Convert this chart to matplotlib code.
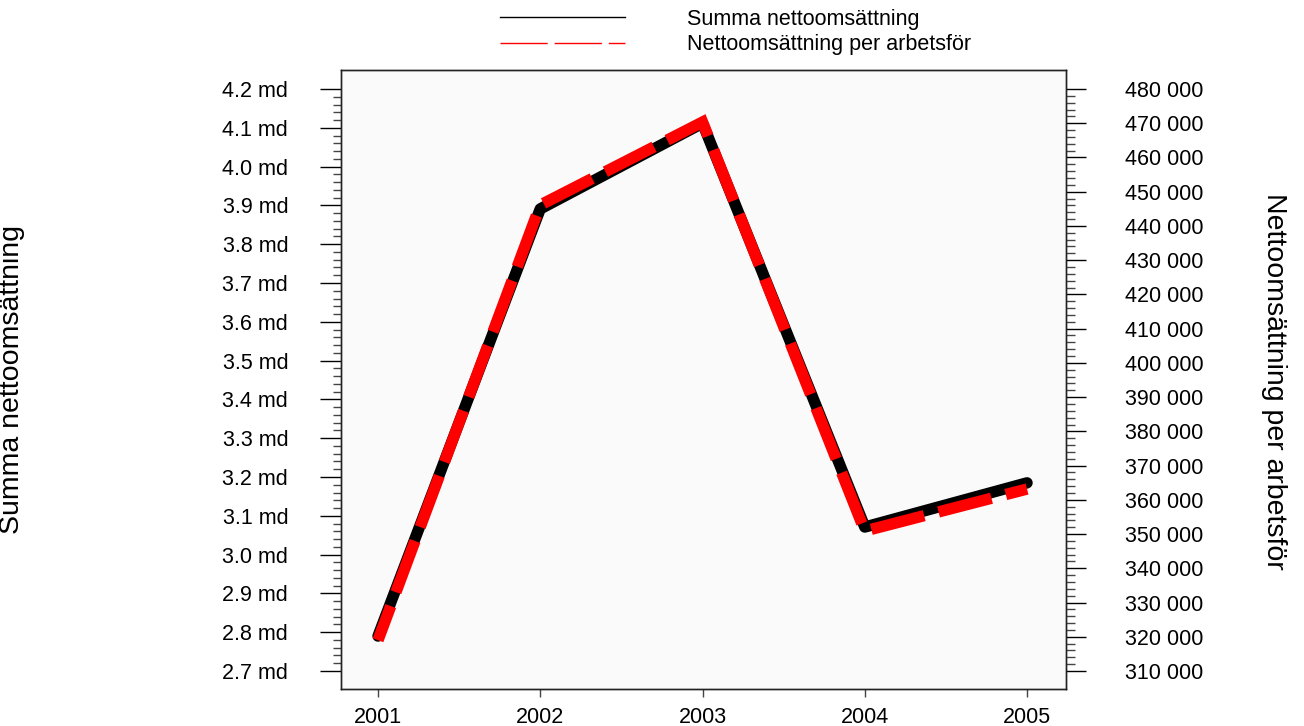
import numpy as np
import matplotlib.pyplot as plt
from matplotlib.lines import Line2D
from matplotlib.ticker import MultipleLocator, FixedLocator, FuncFormatter

plt.rcParams['font.family'] = ['Liberation Sans', 'DejaVu Sans']

years = [2001, 2002, 2003, 2004, 2005]
total_sales = [2.790, 3.891, 4.112, 3.071, 3.185]          # md
sales_per_worker = [319000, 446100, 470340, 350890, 363150]

label_total = 'Summa nettoomsättning'
label_per = 'Nettoomsättning per arbetsför'

fig = plt.figure(figsize=(13.04, 7.26), dpi=100)
ax = fig.add_axes([341 / 1304, 1 - 689 / 726, 725 / 1304, 619 / 726])
ax.set_facecolor('#fafafa')
ax2 = ax.twinx()

ax.plot(years, total_sales, color='black', lw=8.2,
        solid_capstyle='round', solid_joinstyle='round', zorder=2)
ax2.plot(years, sales_per_worker, color='#ff0000', lw=8.2,
         linestyle=(1.6, (4.8, 1.3)), dash_capstyle='butt',
         dash_joinstyle='miter', zorder=3)

ax.set_xlim(2000.772, 2005.24)
ax.set_ylim(2.6536, 4.249)
ax2.set_ylim(304743, 485549)

ax.set_xticks(years)
ax.yaxis.set_major_locator(FixedLocator(np.arange(2.7, 4.2001, 0.1)))
ax.yaxis.set_minor_locator(FixedLocator(np.arange(2.7, 4.2001, 0.02)))
ax.yaxis.set_major_formatter(FuncFormatter(lambda v, p: f'{v:.1f} md'))
ax2.yaxis.set_major_locator(FixedLocator(np.arange(310000, 480001, 10000)))
ax2.yaxis.set_minor_locator(FixedLocator(np.arange(310000, 480001, 2000)))
ax2.yaxis.set_major_formatter(
    FuncFormatter(lambda v, p: f'{v:,.0f}'.replace(',', ' ')))

for a in (ax, ax2):
    for s in a.spines.values():
        s.set_color('#222222')
        s.set_linewidth(1.0)

ax.tick_params(axis='x', length=5.8, width=1, color='#444444',
               labelsize=15.5, pad=7)
ax.tick_params(axis='y', which='major', length=15, width=1,
               labelsize=15.5, pad=23)
ax.tick_params(axis='y', which='minor', length=6, width=1, color='#444444')
ax2.tick_params(axis='y', which='major', length=14.5, width=1,
                labelsize=15.5, pad=28)
ax2.tick_params(axis='y', which='minor', length=6.5, width=1, color='#444444')

ax.set_ylabel(label_total, fontsize=20.5)
ax.yaxis.set_label_coords((25 - 341) / 725, (689 - 380) / 619)
ax2.set_ylabel(label_per, fontsize=20.5, rotation=270, va='center')
ax2.yaxis.set_label_coords((1274 - 341) / 725, (689 - 381) / 619)

handles = [
    Line2D([], [], color='black', lw=1),
    Line2D([], [], color='#ff0000', lw=1, linestyle=(0, (34, 5))),
]
fig.legend(handles, [label_total, label_per], loc='upper left',
           bbox_to_anchor=(500 / 1304, 1 - 9 / 726), frameon=False,
           fontsize=15.5, handlelength=5.8, handletextpad=2.9,
           labelspacing=0.2, borderpad=0, borderaxespad=0)

fig.savefig('out.png', dpi=100)
